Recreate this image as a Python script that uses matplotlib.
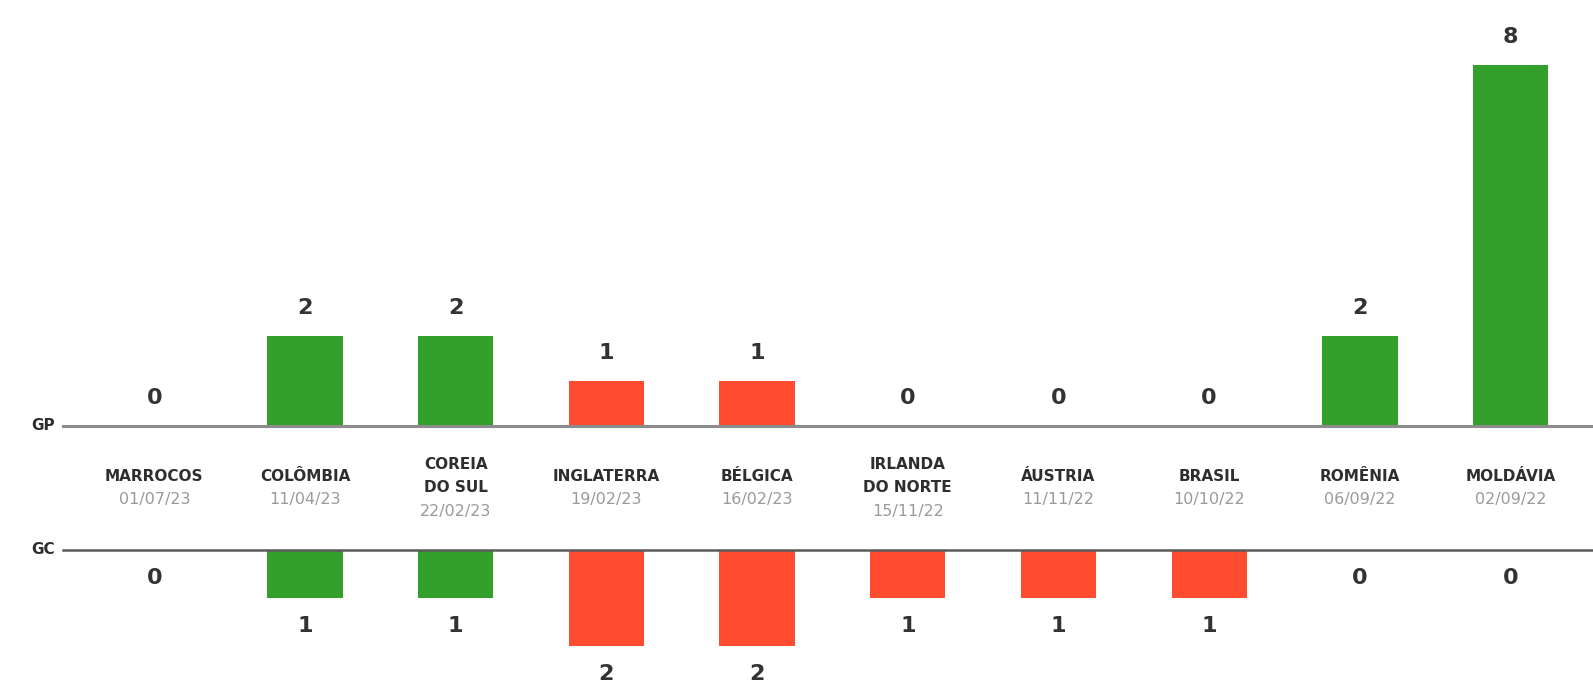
import matplotlib
matplotlib.use("Agg")
import matplotlib.pyplot as plt
import matplotlib.transforms as mtransforms

# Match results: goals scored (GP) and conceded (GC)
countries = ["MARROCOS", "COLÔMBIA", "COREIA\nDO SUL", "INGLATERRA", "BÉLGICA",
             "IRLANDA\nDO NORTE", "ÁUSTRIA", "BRASIL", "ROMÊNIA", "MOLDÁVIA"]
dates = ["01/07/23", "11/04/23", "22/02/23", "19/02/23", "16/02/23",
         "15/11/22", "11/11/22", "10/10/22", "06/09/22", "02/09/22"]
gp = [0, 2, 2, 1, 1, 0, 0, 0, 2, 8]
gc = [0, 1, 1, 2, 2, 1, 1, 1, 0, 0]

GREEN = "#33a02c"
RED = "#ff4b2f"
TXT = "#2e2e2e"
DATE = "#9a9a9a"
FONT = "DejaVu Sans"

W, H = 1593, 688
fig = plt.figure(figsize=(W / 100, H / 100), dpi=100)
fig.patch.set_facecolor("white")

x0 = 63 / W
xw = 1 - x0
gp_base = 425.7          # pixel row of the GP baseline
gc_base = 550.0          # pixel row of the GC baseline
gp_unit = 45.1           # pixels per goal (upper panel)
gc_unit = 48.0           # pixels per goal (lower panel)

ax_top = fig.add_axes([x0, 1 - gp_base / H, xw, gp_base / H])
ax_bot = fig.add_axes([x0, 0, xw, (H - gc_base) / H])

xs = list(range(len(countries)))
xlim = (-0.606, 9.547)
colors = [GREEN if a > b else RED for a, b in zip(gp, gc)]

ax_top.bar(xs, gp, width=0.5, color=colors, zorder=2)
ax_bot.bar(xs, [-v for v in gc], width=0.5, color=colors, zorder=2)

ax_top.set_xlim(*xlim)
ax_bot.set_xlim(*xlim)
ax_top.set_ylim(0, gp_base / gp_unit)
ax_bot.set_ylim(-(H - gc_base) / gc_unit, 0)

for ax in (ax_top, ax_bot):
    ax.axis("off")

ax_top.axhline(0, color="#8c8c8c", lw=2.2, zorder=3, clip_on=False)
ax_bot.axhline(0, color="#5a5a5a", lw=1.8, zorder=3, clip_on=False)

off = 28 * 72 / 100  # label offset in points
for x, v in zip(xs, gp):
    ax_top.annotate(str(v), (x, v), xytext=(0, off), textcoords="offset points",
                    ha="center", va="center", fontsize=16, fontweight="bold",
                    color="#333333", family=FONT)
for x, v in zip(xs, gc):
    ax_bot.annotate(str(v), (x, -v), xytext=(0, -off), textcoords="offset points",
                    ha="center", va="center", fontsize=16, fontweight="bold",
                    color="#333333", family=FONT)

# Axis tags
fig.text(55 / W, 1 - gp_base / H, "GP", ha="right", va="center",
         fontsize=11, fontweight="bold", color=TXT, family=FONT)
fig.text(55 / W, 1 - gc_base / H, "GC", ha="right", va="center",
         fontsize=11, fontweight="bold", color=TXT, family=FONT)

# Opponent names and match dates between the two baselines
trans = mtransforms.blended_transform_factory(ax_top.transData, fig.transFigure)
mid = (gp_base + gc_base) / 2
pitch = 23.5
for x, name, d in zip(xs, countries, dates):
    lines = name.split("\n")
    n = len(lines) + 1
    for k, line in enumerate(lines):
        y = mid + (k - (n - 1) / 2) * pitch
        ax_top.text(x, 1 - y / H, line, transform=trans, ha="center", va="center",
                    fontsize=11, fontweight="bold", color=TXT, family=FONT,
                    clip_on=False)
    y = mid + ((n - 1) - (n - 1) / 2) * pitch
    ax_top.text(x, 1 - y / H, d, transform=trans, ha="center", va="center",
                fontsize=11.5, color=DATE, family=FONT, clip_on=False)

fig.savefig("out.png", dpi=100, facecolor="white")
